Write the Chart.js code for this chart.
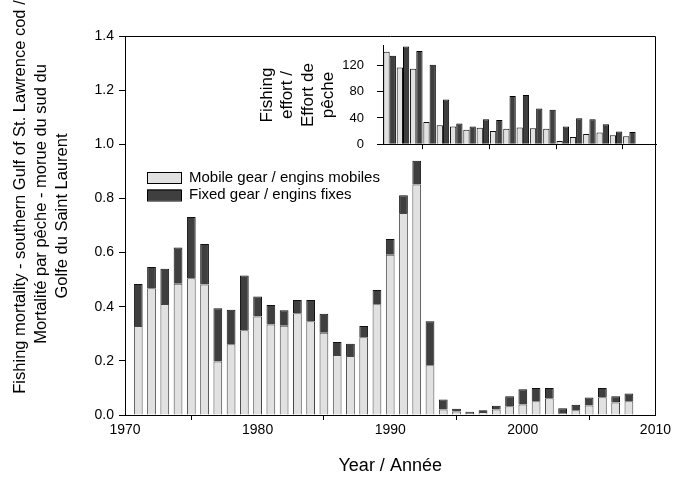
<!DOCTYPE html>
<html>
<head>
<meta charset="utf-8">
<script src="https://cdn.jsdelivr.net/npm/chart.js@4.4.0/dist/chart.umd.min.js"></script>
<style>
  html, body { margin: 0; padding: 0; background: #fff; }
  #wrap { position: relative; width: 673px; height: 477px; }
  #main { position: absolute; left: 0; top: 0; }
  #inset { position: absolute; left: 250px; top: 25px; }
</style>
</head>
<body>
<div id="wrap">
  <canvas id="main" width="673" height="477"></canvas>
  <canvas id="inset" width="423" height="140"></canvas>
</div>
<script>
// fishing mortality, 1971-2008
const years = [1971, 1972, 1973, 1974, 1975, 1976, 1977, 1978, 1979, 1980,
  1981, 1982, 1983, 1984, 1985, 1986, 1987, 1988, 1989, 1990,
  1991, 1992, 1993, 1994, 1995, 1996, 1997, 1998, 1999, 2000,
  2001, 2002, 2003, 2004, 2005, 2006, 2007, 2008];
const mobileF = [0.329, 0.468, 0.410, 0.485, 0.505, 0.482, 0.198, 0.261, 0.313, 0.364,
  0.334, 0.330, 0.376, 0.346, 0.304, 0.222, 0.218, 0.287, 0.409, 0.592,
  0.746, 0.851, 0.184, 0.020, 0.013, 0.007, 0.011, 0.020, 0.032, 0.039,
  0.051, 0.062, 0.007, 0.018, 0.035, 0.066, 0.046, 0.051];
const fixedF = [0.155, 0.079, 0.130, 0.134, 0.226, 0.150, 0.196, 0.128, 0.202, 0.074,
  0.072, 0.057, 0.049, 0.079, 0.070, 0.048, 0.045, 0.042, 0.053, 0.058,
  0.066, 0.088, 0.162, 0.037, 0.010, 0.005, 0.007, 0.014, 0.037, 0.056,
  0.049, 0.038, 0.018, 0.020, 0.030, 0.034, 0.023, 0.028];

// fishing effort (inset), 1990-2008
const effortYears = [1990, 1991, 1992, 1993, 1994, 1995, 1996, 1997, 1998, 1999,
  2000, 2001, 2002, 2003, 2004, 2005, 2006, 2007, 2008];
const mobileEffort = [141, 117, 115, 34, 29, 27, 22, 25, 20, 23.5,
  25.5, 24.5, 23.5, 5, 11, 15.5, 18, 13.5, 12];
const fixedEffort = [135, 149, 142, 121, 68, 31.5, 27, 38, 37, 73.5,
  75, 54.5, 52.5, 27, 39.5, 38, 30.5, 19.5, 18.5];

const yTicksMain = [0, 0.2, 0.4, 0.6, 0.8, 1.0, 1.2, 1.4];
const xTicksMain = [1970, 1980, 1990, 2000, 2010];
const effortTicks = [0, 40, 80, 120];
const effortXTicks = [1990, 1995, 2000, 2005, 2010];

const yTitleLines = ['Fishing mortality - southern Gulf of St. Lawrence cod /',
  'Mortalité par pêche - morue du sud du',
  'Golfe du Saint Laurent'];

const FONT = "'Liberation Sans', Arial, sans-serif";
const LIGHT = '#e1e1e1';
const DARK = '#3f3f3f';

const pairs = (xs, ys) => xs.map((x, i) => ({ x: x, y: ys[i] }));

// box around the plot area (top and right edges)
const frame = {
  id: 'frame',
  afterDraw(chart) {
    const a = chart.chartArea;
    const ctx = chart.ctx;
    ctx.save();
    ctx.strokeStyle = '#000';
    ctx.lineWidth = 1;
    ctx.beginPath();
    ctx.moveTo(Math.round(a.left) + 0.5, Math.round(a.top) + 0.5);
    ctx.lineTo(Math.round(a.right) + 0.5, Math.round(a.top) + 0.5);
    ctx.lineTo(Math.round(a.right) + 0.5, Math.round(a.bottom) + 0.5);
    ctx.stroke();
    ctx.restore();
  }
};

// legend in the plot, drawn from the datasets
const boxLegend = {
  id: 'boxLegend',
  afterDraw(chart) {
    const ctx = chart.ctx;
    const a = chart.chartArea;
    ctx.save();
    ctx.font = '15px ' + FONT;
    ctx.textBaseline = 'middle';
    chart.data.datasets.forEach((ds, i) => {
      const x = a.left + 22;
      const y = a.top + 136 + i * 17.5;
      ctx.fillStyle = ds.backgroundColor;
      ctx.fillRect(x, y, 34, 11);
      ctx.strokeStyle = '#000';
      ctx.lineWidth = 1;
      ctx.strokeRect(x + 0.5, y + 0.5, 34, 11);
      ctx.fillStyle = '#000';
      ctx.fillText(ds.label, x + 42, y + 5.5);
    });
    ctx.restore();
  }
};

// rotated y title, each line placed like the original
const yTitle = {
  id: 'yTitle',
  afterDraw(chart) {
    const ctx = chart.ctx;
    const xs = [20, 41, 62];
    const ys = [197, 204, 216];
    ctx.save();
    ctx.font = '16.5px ' + FONT;
    ctx.fillStyle = '#000';
    ctx.textAlign = 'center';
    ctx.textBaseline = 'middle';
    yTitleLines.forEach((t, i) => {
      ctx.save();
      ctx.translate(xs[i], ys[i]);
      ctx.rotate(-Math.PI / 2);
      ctx.fillText(t, 0, 0);
      ctx.restore();
    });
    ctx.restore();
  }
};

new Chart(document.getElementById('main'), {
  type: 'bar',
  data: {
    datasets: [{
      label: 'Mobile gear / engins mobiles',
      data: pairs(years, mobileF),
      backgroundColor: LIGHT,
      borderColor: '#444',
      borderWidth: 1,
      barPercentage: 0.66,
      categoryPercentage: 1
    }, {
      label: 'Fixed gear / engins fixes',
      data: pairs(years, fixedF),
      backgroundColor: DARK,
      borderColor: '#111',
      borderWidth: 1,
      barPercentage: 0.66,
      categoryPercentage: 1
    }]
  },
  options: {
    responsive: false,
    animation: false,
    layout: { padding: { top: 36, right: 16, left: 0, bottom: 0 } },
    plugins: {
      legend: { display: false },
      tooltip: { enabled: false }
    },
    scales: {
      x: {
        type: 'linear',
        stacked: true,
        min: 1970,
        max: 2010,
        offset: false,
        afterBuildTicks: s => { s.ticks = xTicksMain.map(v => ({ value: v })); },
        afterFit: s => { s.height = 62; },
        ticks: {
          color: '#000',
          font: { family: FONT, size: 14 },
          padding: 2,
          maxRotation: 0,
          callback: v => String(v)
        },
        grid: { drawOnChartArea: false, tickLength: 5, color: '#000' },
        border: { color: '#000', width: 1 },
        title: {
          display: true,
          text: 'Year / Année',
          color: '#000',
          font: { family: FONT, size: 18 },
          padding: { top: 0, bottom: 0 }
        }
      },
      y: {
        stacked: true,
        min: 0,
        max: 1.4,
        afterBuildTicks: s => { s.ticks = yTicksMain.map(v => ({ value: v })); },
        afterFit: s => { s.width = 125; },
        ticks: {
          color: '#000',
          font: { family: FONT, size: 14 },
          padding: 5,
          callback: v => v.toFixed(1)
        },
        grid: { drawOnChartArea: false, tickLength: 6, color: '#000' },
        border: { color: '#000', width: 1 }
      }
    }
  },
  plugins: [frame, boxLegend, yTitle]
});

new Chart(document.getElementById('inset'), {
  type: 'bar',
  data: {
    datasets: [{
      label: 'Mobile',
      data: pairs(effortYears, mobileEffort),
      backgroundColor: LIGHT,
      borderColor: '#111',
      borderWidth: 1,
      barPercentage: 1,
      categoryPercentage: 0.94
    }, {
      label: 'Fixed',
      data: pairs(effortYears, fixedEffort),
      backgroundColor: DARK,
      borderColor: '#000',
      borderWidth: 1,
      barPercentage: 1,
      categoryPercentage: 0.94
    }]
  },
  options: {
    responsive: false,
    animation: false,
    layout: { padding: { top: 18, right: 17, left: 0, bottom: 0 } },
    plugins: {
      legend: { display: false },
      tooltip: { enabled: false }
    },
    scales: {
      x: {
        type: 'linear',
        min: 1989.5,
        max: 2010,
        offset: false,
        afterBuildTicks: s => { s.ticks = effortXTicks.map(v => ({ value: v })); },
        afterFit: s => { s.height = 16; },
        ticks: { display: false },
        grid: { drawOnChartArea: false, tickLength: 5, color: '#000' },
        border: { color: '#000', width: 1 }
      },
      y: {
        min: 0,
        max: 150,
        afterBuildTicks: s => { s.ticks = effortTicks.map(v => ({ value: v })); },
        afterFit: s => { s.width = 133; },
        ticks: {
          color: '#000',
          font: { family: FONT, size: 13 },
          padding: 13
        },
        grid: { drawOnChartArea: false, tickLength: 6, color: '#000' },
        border: { color: '#000', width: 1 },
        title: {
          display: true,
          text: ['Fishing', 'effort /', 'Effort de', 'pêche'],
          color: '#000',
          font: { family: FONT, size: 17, lineHeight: 1.2 },
          padding: { top: 7, bottom: 0 }
        }
      }
    }
  }
});
</script>
</body>
</html>
